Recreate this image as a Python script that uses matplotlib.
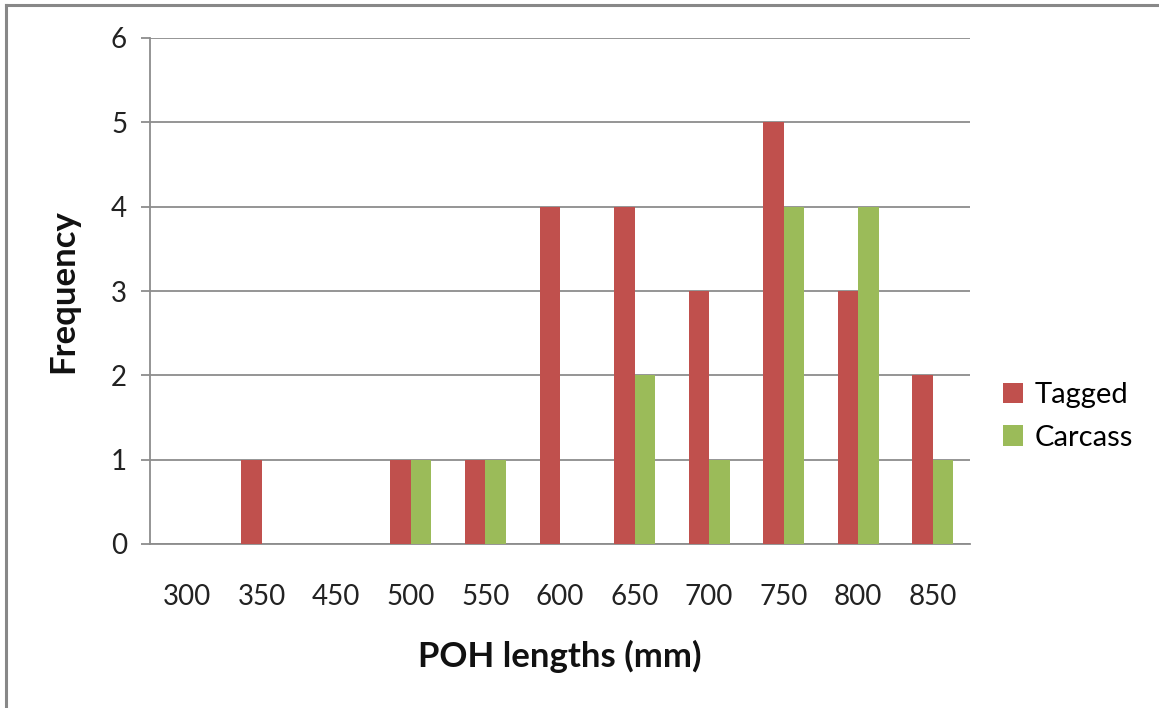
import matplotlib
matplotlib.use("Agg")
import matplotlib.pyplot as plt
from matplotlib.lines import Line2D
import numpy as np

categories = ["300", "350", "450", "500", "550", "600", "650", "700", "750", "800", "850"]
tagged = [0, 1, 0, 1, 1, 4, 4, 3, 5, 3, 2]
carcass = [0, 0, 0, 1, 1, 0, 2, 1, 4, 4, 1]

plt.rcParams['font.family'] = ['Lato', 'DejaVu Sans']

W, H = 1159, 708
fig = plt.figure(figsize=(W / 100, H / 100), dpi=100)
ax = fig.add_axes([150 / W, 1 - 544 / H, (970 - 150) / W, (544 - 38) / H])

x = np.arange(len(categories))
bw = 0.275
ax.bar(x - bw / 2, tagged, bw, color="#C0504D", label="Tagged", zorder=3)
ax.bar(x + bw / 2, carcass, bw, color="#9BBB59", label="Carcass", zorder=3)

ax.set_xlim(-0.5, len(categories) - 0.5)
ax.set_ylim(0, 6)
ax.set_yticks(range(0, 7))
ax.set_xticks(x)
ax.set_xticklabels(categories)

grid_c = "#8c8c8c"
ax.yaxis.grid(True, color=grid_c, linewidth=1.3, zorder=0)
ax.set_axisbelow(True)
for s in ["top", "right"]:
    ax.spines[s].set_visible(False)
ax.spines["left"].set_color(grid_c)
ax.spines["left"].set_linewidth(1.3)
ax.spines["bottom"].set_color(grid_c)
ax.spines["bottom"].set_linewidth(1.3)

ax.tick_params(axis="y", direction="out", length=6.5, width=1.3, color=grid_c,
               labelsize=20, pad=10, labelcolor="#222222")
ax.tick_params(axis="x", length=0, labelsize=20, pad=29, labelcolor="#222222")

ax.set_xlabel("POH lengths (mm)", fontsize=25, fontweight="bold", labelpad=21, color="#111111")
ax.set_ylabel("Frequency", fontsize=25, fontweight="bold", labelpad=23, color="#111111")

leg = ax.legend(loc="center left", bbox_to_anchor=(1.008, 0.252), frameon=False,
                fontsize=21, handlelength=0.7, handleheight=0.7, handletextpad=0.4,
                labelspacing=0.55)

# partial outer border (top and left)
fig.add_artist(Line2D([6 / W, 1], [1 - 5 / H, 1 - 5 / H], color="#888888", linewidth=2.2,
                      transform=fig.transFigure))
fig.add_artist(Line2D([6 / W, 6 / W], [0, 1 - 5 / H], color="#888888", linewidth=2.2,
                      transform=fig.transFigure))

fig.savefig("out.png", dpi=100, facecolor="white")
